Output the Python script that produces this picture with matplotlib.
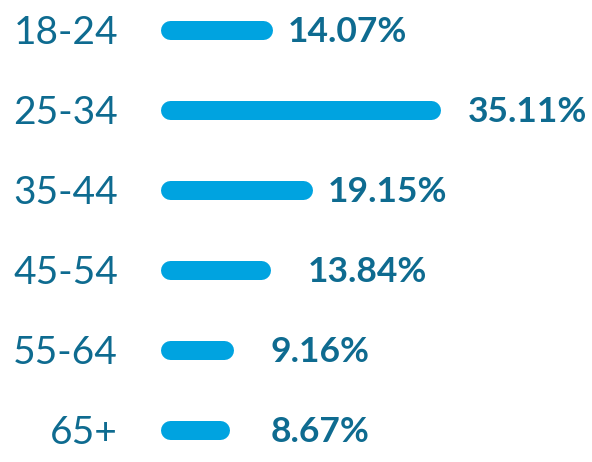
import matplotlib
matplotlib.use("Agg")
import matplotlib.pyplot as plt
import numpy as np

age_groups = ["18-24", "25-34", "35-44", "45-54", "55-64", "65+"]
shares = [14.07, 35.11, 19.15, 13.84, 9.16, 8.67]
value_labels = ["14.07%", "35.11%", "19.15%", "13.84%", "9.16%", "8.67%"]

BAR_COLOR = "#00a3e0"
TEXT_COLOR = "#0e6b90"

W, H, DPI = 592, 462, 100
x0_px = 160          # where the bars start
px_per_unit = 7.975  # pixels per percent
row_px = 80
first_row_px = 30
bar_px = 19
text_drop = 2.5 / row_px  # nudge text down a little

# gap between bar end and value label (pixels), as in the original layout
label_gap_px = [16, 28, 15, 37, 37, 41]

fig = plt.figure(figsize=(W / DPI, H / DPI), dpi=DPI)
ax = fig.add_axes([0, 0, 1, 1])
ax.set_xlim(-x0_px / px_per_unit, (W - x0_px) / px_per_unit)
ax.set_ylim((H - first_row_px) / row_px, -first_row_px / row_px)
ax.axis("off")

r = bar_px / 2 / px_per_unit
lw_pt = bar_px * 72 / DPI
y = np.arange(len(age_groups))

for i, (grp, v, lab) in enumerate(zip(age_groups, shares, value_labels)):
    ax.plot([r, v - r], [y[i], y[i]], color=BAR_COLOR, linewidth=lw_pt,
            solid_capstyle="round")
    ax.text(-42 / px_per_unit, y[i] + text_drop, grp, ha="right",
            va="center", fontsize=28, color=TEXT_COLOR, family="Lato")
    ax.text(v + label_gap_px[i] / px_per_unit, y[i] + text_drop, lab,
            ha="left", va="center", fontsize=25.5, fontweight="bold",
            color=TEXT_COLOR, family="Lato")

fig.savefig("out.png", dpi=DPI)
